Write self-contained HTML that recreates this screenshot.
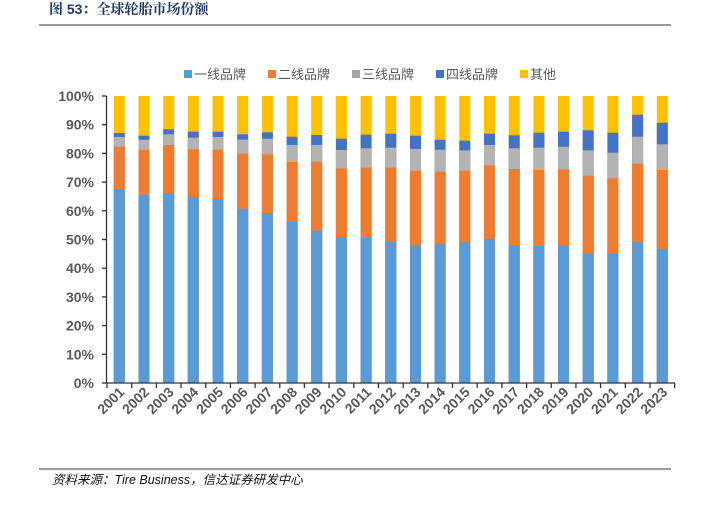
<!DOCTYPE html>
<html><head><meta charset="utf-8"><style>
body{margin:0;background:#fff;}
svg{display:block;font-family:"Liberation Sans","Noto Sans CJK SC",sans-serif;}
.a{fill:#FFC000}.b{fill:#4472C4}.c{fill:#B3B3B3}.d{fill:#ED7D31}.e{fill:#5B9BD5}
</style></head><body>
<svg width="711" height="505" xmlns="http://www.w3.org/2000/svg">
<text x="49" y="14" font-size="14" font-weight="bold" fill="#1f3864" font-family="Liberation Sans,Noto Serif CJK SC,serif">图 53：全球轮胎市场份额</text>
<line x1="39" y1="25" x2="671" y2="25" stroke="#333" stroke-width="1"/>
<line x1="39" y1="469" x2="671" y2="469" stroke="#333" stroke-width="1"/>
<text x="52" y="484" font-size="12.5" font-style="italic" fill="#111">资料来源：Tire Business，信达证券研发中心</text>
<g font-size="13" fill="#595959">
<rect x="184" y="70" width="8" height="8" fill="#5B9BD5"/><text x="194" y="79">一线品牌</text>
<rect x="268" y="70" width="8" height="8" fill="#ED7D31"/><text x="278" y="79">二线品牌</text>
<rect x="352" y="70" width="8" height="8" fill="#A5A5A5"/><text x="362" y="79">三线品牌</text>
<rect x="436" y="70" width="8" height="8" fill="#4472C4"/><text x="446" y="79">四线品牌</text>
<rect x="520" y="70" width="8" height="8" fill="#FFC000"/><text x="530" y="79">其他</text>
</g>
<g>
<g transform="translate(113.8,0)"><rect class="a" y="96" width="11" height="287"/><rect class="b" y="133" width="11" height="250"/><rect class="c" y="137" width="11" height="246"/><rect class="d" y="146.7" width="11" height="236.3"/><rect class="e" y="189.3" width="11" height="193.7"/></g>
<g transform="translate(138.5,0)"><rect class="a" y="96" width="11" height="287"/><rect class="b" y="135.7" width="11" height="247.3"/><rect class="c" y="139.7" width="11" height="243.3"/><rect class="d" y="149.7" width="11" height="233.3"/><rect class="e" y="194.7" width="11" height="188.3"/></g>
<g transform="translate(163.2,0)"><rect class="a" y="96" width="11" height="287"/><rect class="b" y="129.3" width="11" height="253.7"/><rect class="c" y="134.3" width="11" height="248.7"/><rect class="d" y="145" width="11" height="238"/><rect class="e" y="193" width="11" height="190"/></g>
<g transform="translate(187.8,0)"><rect class="a" y="96" width="11" height="287"/><rect class="b" y="131.7" width="11" height="251.3"/><rect class="c" y="137.7" width="11" height="245.3"/><rect class="d" y="149.3" width="11" height="233.7"/><rect class="e" y="197.3" width="11" height="185.7"/></g>
<g transform="translate(212.5,0)"><rect class="a" y="96" width="11" height="287"/><rect class="b" y="131.7" width="11" height="251.3"/><rect class="c" y="137" width="11" height="246"/><rect class="d" y="149.7" width="11" height="233.3"/><rect class="e" y="199.3" width="11" height="183.7"/></g>
<g transform="translate(237.2,0)"><rect class="a" y="96" width="11" height="287"/><rect class="b" y="134.3" width="11" height="248.7"/><rect class="c" y="139.7" width="11" height="243.3"/><rect class="d" y="153.7" width="11" height="229.3"/><rect class="e" y="208.7" width="11" height="174.3"/></g>
<g transform="translate(261.9,0)"><rect class="a" y="96" width="11" height="287"/><rect class="b" y="132.3" width="11" height="250.7"/><rect class="c" y="138.7" width="11" height="244.3"/><rect class="d" y="154.3" width="11" height="228.7"/><rect class="e" y="213" width="11" height="170"/></g>
<g transform="translate(286.6,0)"><rect class="a" y="96" width="11" height="287"/><rect class="b" y="136.7" width="11" height="246.3"/><rect class="c" y="145" width="11" height="238"/><rect class="d" y="162" width="11" height="221"/><rect class="e" y="221.7" width="11" height="161.3"/></g>
<g transform="translate(311.2,0)"><rect class="a" y="96" width="11" height="287"/><rect class="b" y="135" width="11" height="248"/><rect class="c" y="145" width="11" height="238"/><rect class="d" y="161.7" width="11" height="221.3"/><rect class="e" y="230.7" width="11" height="152.3"/></g>
<g transform="translate(335.9,0)"><rect class="a" y="96" width="11" height="287"/><rect class="b" y="138.7" width="11" height="244.3"/><rect class="c" y="150" width="11" height="233"/><rect class="d" y="168.3" width="11" height="214.7"/><rect class="e" y="237.3" width="11" height="145.7"/></g>
<g transform="translate(360.6,0)"><rect class="a" y="96" width="11" height="287"/><rect class="b" y="134.7" width="11" height="248.3"/><rect class="c" y="148.3" width="11" height="234.7"/><rect class="d" y="167.7" width="11" height="215.3"/><rect class="e" y="238" width="11" height="145"/></g>
<g transform="translate(385.3,0)"><rect class="a" y="96" width="11" height="287"/><rect class="b" y="133.7" width="11" height="249.3"/><rect class="c" y="147.7" width="11" height="235.3"/><rect class="d" y="167.7" width="11" height="215.3"/><rect class="e" y="241.7" width="11" height="141.3"/></g>
<g transform="translate(410,0)"><rect class="a" y="96" width="11" height="287"/><rect class="b" y="135.7" width="11" height="247.3"/><rect class="c" y="149" width="11" height="234"/><rect class="d" y="170.7" width="11" height="212.3"/><rect class="e" y="245.7" width="11" height="137.3"/></g>
<g transform="translate(434.6,0)"><rect class="a" y="96" width="11" height="287"/><rect class="b" y="139.7" width="11" height="243.3"/><rect class="c" y="149.7" width="11" height="233.3"/><rect class="d" y="171.7" width="11" height="211.3"/><rect class="e" y="244.3" width="11" height="138.7"/></g>
<g transform="translate(459.3,0)"><rect class="a" y="96" width="11" height="287"/><rect class="b" y="140.7" width="11" height="242.3"/><rect class="c" y="150.3" width="11" height="232.7"/><rect class="d" y="170.7" width="11" height="212.3"/><rect class="e" y="242.3" width="11" height="140.7"/></g>
<g transform="translate(484,0)"><rect class="a" y="96" width="11" height="287"/><rect class="b" y="133.7" width="11" height="249.3"/><rect class="c" y="145" width="11" height="238"/><rect class="d" y="165.3" width="11" height="217.7"/><rect class="e" y="238.7" width="11" height="144.3"/></g>
<g transform="translate(508.7,0)"><rect class="a" y="96" width="11" height="287"/><rect class="b" y="135.3" width="11" height="247.7"/><rect class="c" y="148.3" width="11" height="234.7"/><rect class="d" y="169" width="11" height="214"/><rect class="e" y="245.3" width="11" height="137.7"/></g>
<g transform="translate(533.4,0)"><rect class="a" y="96" width="11" height="287"/><rect class="b" y="132.7" width="11" height="250.3"/><rect class="c" y="147.7" width="11" height="235.3"/><rect class="d" y="170" width="11" height="213"/><rect class="e" y="245.7" width="11" height="137.3"/></g>
<g transform="translate(558,0)"><rect class="a" y="96" width="11" height="287"/><rect class="b" y="131.7" width="11" height="251.3"/><rect class="c" y="146.7" width="11" height="236.3"/><rect class="d" y="169.3" width="11" height="213.7"/><rect class="e" y="245.3" width="11" height="137.7"/></g>
<g transform="translate(582.7,0)"><rect class="a" y="96" width="11" height="287"/><rect class="b" y="130.3" width="11" height="252.7"/><rect class="c" y="150.3" width="11" height="232.7"/><rect class="d" y="175.7" width="11" height="207.3"/><rect class="e" y="253.7" width="11" height="129.3"/></g>
<g transform="translate(607.4,0)"><rect class="a" y="96" width="11" height="287"/><rect class="b" y="132.7" width="11" height="250.3"/><rect class="c" y="152.7" width="11" height="230.3"/><rect class="d" y="178.3" width="11" height="204.7"/><rect class="e" y="253.3" width="11" height="129.7"/></g>
<g transform="translate(632.1,0)"><rect class="a" y="96" width="11" height="287"/><rect class="b" y="114.7" width="11" height="268.3"/><rect class="c" y="136.7" width="11" height="246.3"/><rect class="d" y="163.7" width="11" height="219.3"/><rect class="e" y="242.3" width="11" height="140.7"/></g>
<g transform="translate(656.8,0)"><rect class="a" y="96" width="11" height="287"/><rect class="b" y="122.7" width="11" height="260.3"/><rect class="c" y="144.3" width="11" height="238.7"/><rect class="d" y="170" width="11" height="213"/><rect class="e" y="248.7" width="11" height="134.3"/></g>
</g>
<g stroke="#333" stroke-width="1.3">
<line x1="106.5" y1="96" x2="106.5" y2="383"/><line x1="106.5" y1="383" x2="675" y2="383"/>
<line x1="102" y1="383" x2="106.5" y2="383"/><line x1="102" y1="354.3" x2="106.5" y2="354.3"/><line x1="102" y1="325.6" x2="106.5" y2="325.6"/><line x1="102" y1="296.9" x2="106.5" y2="296.9"/><line x1="102" y1="268.2" x2="106.5" y2="268.2"/><line x1="102" y1="239.5" x2="106.5" y2="239.5"/><line x1="102" y1="210.8" x2="106.5" y2="210.8"/><line x1="102" y1="182.1" x2="106.5" y2="182.1"/><line x1="102" y1="153.4" x2="106.5" y2="153.4"/><line x1="102" y1="124.7" x2="106.5" y2="124.7"/><line x1="102" y1="96" x2="106.5" y2="96"/>
<path d="M107 383v5M131.7 383v5M156.4 383v5M181 383v5M205.7 383v5M230.4 383v5M255.1 383v5M279.8 383v5M304.4 383v5M329.1 383v5M353.8 383v5M378.5 383v5M403.2 383v5M427.8 383v5M452.5 383v5M477.2 383v5M501.9 383v5M526.6 383v5M551.2 383v5M575.9 383v5M600.6 383v5M625.3 383v5M650 383v5M674.6 383v5" fill="none"/>
</g>
<g font-size="14" font-weight="bold" fill="#595959" text-anchor="end">
<text x="94" y="388">0%</text><text x="94" y="359.3">10%</text><text x="94" y="330.6">20%</text><text x="94" y="301.9">30%</text><text x="94" y="273.2">40%</text><text x="94" y="244.5">50%</text><text x="94" y="215.8">60%</text><text x="94" y="187.1">70%</text><text x="94" y="158.4">80%</text><text x="94" y="129.7">90%</text><text x="94" y="101">100%</text>
<text transform="translate(125.3,393) rotate(-45)">2001</text>
<text transform="translate(150,393) rotate(-45)">2002</text>
<text transform="translate(174.7,393) rotate(-45)">2003</text>
<text transform="translate(199.3,393) rotate(-45)">2004</text>
<text transform="translate(224,393) rotate(-45)">2005</text>
<text transform="translate(248.7,393) rotate(-45)">2006</text>
<text transform="translate(273.4,393) rotate(-45)">2007</text>
<text transform="translate(298.1,393) rotate(-45)">2008</text>
<text transform="translate(322.7,393) rotate(-45)">2009</text>
<text transform="translate(347.4,393) rotate(-45)">2010</text>
<text transform="translate(372.1,393) rotate(-45)">2011</text>
<text transform="translate(396.8,393) rotate(-45)">2012</text>
<text transform="translate(421.5,393) rotate(-45)">2013</text>
<text transform="translate(446.1,393) rotate(-45)">2014</text>
<text transform="translate(470.8,393) rotate(-45)">2015</text>
<text transform="translate(495.5,393) rotate(-45)">2016</text>
<text transform="translate(520.2,393) rotate(-45)">2017</text>
<text transform="translate(544.9,393) rotate(-45)">2018</text>
<text transform="translate(569.5,393) rotate(-45)">2019</text>
<text transform="translate(594.2,393) rotate(-45)">2020</text>
<text transform="translate(618.9,393) rotate(-45)">2021</text>
<text transform="translate(643.6,393) rotate(-45)">2022</text>
<text transform="translate(668.3,393) rotate(-45)">2023</text>
</g>
</svg>
</body></html>
